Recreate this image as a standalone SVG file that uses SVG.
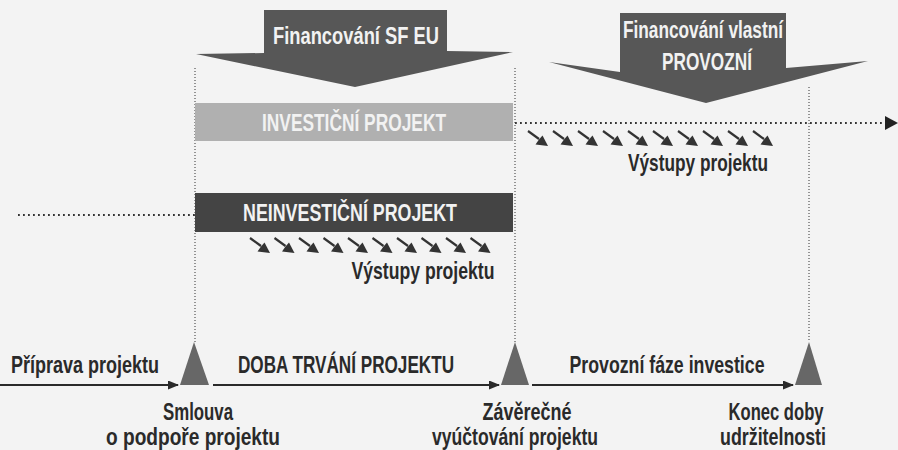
<svg xmlns="http://www.w3.org/2000/svg" width="898" height="450" viewBox="0 0 898 450">
<style>
.lbl{font-family:"Liberation Sans",Arial,sans-serif;font-weight:bold;font-size:24px;fill:#2a2a2a}
.wt{font-family:"Liberation Sans",Arial,sans-serif;font-weight:bold;font-size:24px;fill:#f2f2f2}
.vdot{stroke:#333;stroke-width:1;stroke-dasharray:1 2;fill:none}
.hdot{stroke:#333;stroke-width:1.8;stroke-dasharray:1.8 3.2;fill:none}
.tl{stroke:#2a2a2a;stroke-width:1.8;fill:none}
.tri{fill:#676767}
.big{fill:#575757}
</style>
<defs>
<marker id="ah" markerWidth="11" markerHeight="9" refX="10" refY="4.5" orient="auto" markerUnits="userSpaceOnUse" viewBox="0 0 11 9">
<path d="M0,0 L11,4.5 L0,9 z" fill="#2a2a2a"/>
</marker>
<g id="sa">
<line x1="0" y1="0" x2="11" y2="8" stroke="#333" stroke-width="2.2"/>
<path d="M20,15 L7.5,13.5 L11,8.5 L14.5,4.5 z" fill="#333"/>
</g>
</defs>
<rect width="898" height="450" fill="#f3f3f3"/>

<g id="financovani-sf-eu">
<polygon class="big" points="264,10 447,10 447,51 513,52 355,87 196,54 264,53"/>
<text class="wt" x="356" y="44" text-anchor="middle" textLength="166" lengthAdjust="spacingAndGlyphs">Financování SF EU</text>
</g>

<g id="financovani-vlastni">
<polygon class="big" points="620,13 786,13 786,68 868,61 706,103 549,62 620,72"/>
<text class="wt" x="703" y="38" text-anchor="middle" textLength="160" lengthAdjust="spacingAndGlyphs">Financování vlastní</text>
<text class="wt" x="707" y="70" text-anchor="middle" textLength="90" lengthAdjust="spacingAndGlyphs">PROVOZNÍ</text>
</g>

<g id="connectors">
<line class="vdot" x1="195" y1="68" x2="195" y2="342"/>
<line class="vdot" x1="515" y1="68" x2="515" y2="342"/>
<line class="vdot" x1="809" y1="87" x2="809" y2="342"/>
<line class="hdot" x1="515" y1="123" x2="886" y2="123"/>
<path d="M885,116 L898,123 L885,130 z" fill="#222"/>
<line class="hdot" x1="18" y1="215" x2="195" y2="215"/>
<line class="tl" x1="0" y1="385" x2="178" y2="385" marker-end="url(#ah)"/>
<line class="tl" x1="213" y1="385" x2="499" y2="385" marker-end="url(#ah)"/>
<line class="tl" x1="532" y1="385" x2="793" y2="385" marker-end="url(#ah)"/>
</g>

<g id="investicni-projekt">
<rect x="195" y="103" width="318" height="38" fill="#b0b0b0"/>
<text class="wt" x="354" y="131" text-anchor="middle" textLength="184" lengthAdjust="spacingAndGlyphs" fill="#ececec">INVESTIČNÍ PROJEKT</text>
</g>

<g id="vystupy-investicni">
<use href="#sa" x="528" y="131"/><use href="#sa" x="553" y="131"/><use href="#sa" x="578" y="131"/><use href="#sa" x="603" y="131"/><use href="#sa" x="628" y="131"/>
<use href="#sa" x="653" y="131"/><use href="#sa" x="678" y="131"/><use href="#sa" x="703" y="131"/><use href="#sa" x="728" y="131"/><use href="#sa" x="753" y="131"/>
<text class="lbl" x="698" y="171" text-anchor="middle" textLength="140" lengthAdjust="spacingAndGlyphs">Výstupy projektu</text>
</g>

<g id="neinvesticni-projekt">
<rect x="195" y="193" width="318" height="39" fill="#444"/>
<text class="wt" x="350" y="221" text-anchor="middle" textLength="214" lengthAdjust="spacingAndGlyphs">NEINVESTIČNÍ PROJEKT</text>
</g>

<g id="vystupy-neinvesticni">
<use href="#sa" x="250" y="238"/><use href="#sa" x="274.5" y="238"/><use href="#sa" x="299" y="238"/><use href="#sa" x="323.5" y="238"/><use href="#sa" x="348" y="238"/>
<use href="#sa" x="372.5" y="238"/><use href="#sa" x="397" y="238"/><use href="#sa" x="421.5" y="238"/><use href="#sa" x="446" y="238"/><use href="#sa" x="470.5" y="238"/>
<text class="lbl" x="423" y="279" text-anchor="middle" textLength="143" lengthAdjust="spacingAndGlyphs">Výstupy projektu</text>
</g>

<g id="priprava">
<text class="lbl" x="11" y="373" textLength="148" lengthAdjust="spacingAndGlyphs">Příprava projektu</text>
</g>

<g id="smlouva">
<polygon class="tri" points="194,342 180,385 209,385"/>
<text class="lbl" x="198" y="420" text-anchor="middle" textLength="70" lengthAdjust="spacingAndGlyphs">Smlouva</text>
<text class="lbl" x="193" y="445" text-anchor="middle" textLength="174" lengthAdjust="spacingAndGlyphs">o podpoře projektu</text>
</g>

<g id="doba-trvani">
<text class="lbl" x="346" y="373" text-anchor="middle" textLength="216" lengthAdjust="spacingAndGlyphs">DOBA TRVÁNÍ PROJEKTU</text>
</g>

<g id="zaverecne">
<polygon class="tri" points="515,342 501,385 529,385"/>
<text class="lbl" x="527" y="420" text-anchor="middle" textLength="89" lengthAdjust="spacingAndGlyphs">Závěrečné</text>
<text class="lbl" x="515" y="445" text-anchor="middle" textLength="166" lengthAdjust="spacingAndGlyphs">vyúčtování projektu</text>
</g>

<g id="provozni-faze">
<text class="lbl" x="667" y="373" text-anchor="middle" textLength="195" lengthAdjust="spacingAndGlyphs">Provozní fáze investice</text>
</g>

<g id="konec">
<polygon class="tri" points="809,342 795,385 822,385"/>
<text class="lbl" x="776" y="420" text-anchor="middle" textLength="95" lengthAdjust="spacingAndGlyphs">Konec doby</text>
<text class="lbl" x="773" y="445" text-anchor="middle" textLength="106" lengthAdjust="spacingAndGlyphs">udržitelnosti</text>
</g>
</svg>
